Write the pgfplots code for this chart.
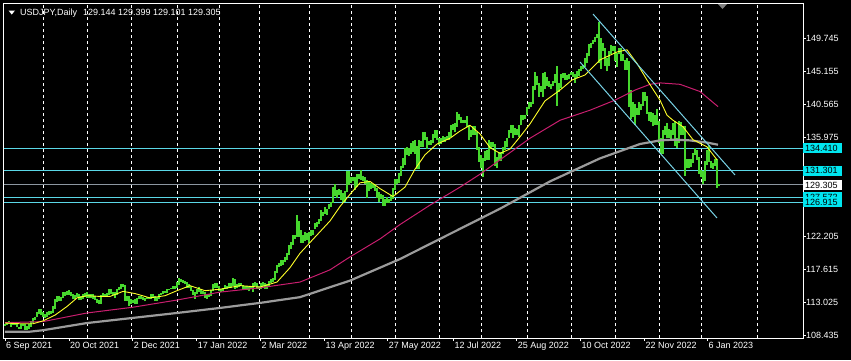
\documentclass[border=0pt]{standalone}
\usepackage{pgfplots}
\pgfplotsset{compat=1.18}
\usepackage{pgfplotstable}
\usepackage{fontspec}
\setmainfont{Liberation Sans}
\definecolor{barcol}{RGB}{70,215,45}
\definecolor{boxcyan}{RGB}{0,230,240}
\definecolor{linecyan}{RGB}{90,215,230}
\definecolor{chancyan}{RGB}{120,210,230}
\definecolor{mapink}{RGB}{200,30,110}
\definecolor{magray}{RGB}{155,155,155}
\definecolor{bidgray}{RGB}{140,150,160}
\definecolor{mayellow}{RGB}{255,255,40}
\newcommand{\lf}{\fontsize{9}{10}\selectfont}
\pgfplotstableread{
lo hi
109.7 110.0
109.8 110.3
110.0 110.4
109.6 110.2
109.8 110.1
109.8 110.2
109.5 110.2
109.3 109.6
109.3 109.9
109.7 110.0
109.1 110.0
109.2 109.7
109.3 109.9
109.6 110.4
110.1 110.8
110.5 111.0
110.9 111.7
111.3 112.0
111.2 112.1
110.9 111.6
110.8 111.3
110.9 111.6
111.2 111.8
111.3 111.8
111.5 112.4
112.1 113.4
113.0 113.8
113.1 113.8
113.1 113.7
113.6 114.4
113.9 114.4
114.0 114.5
114.0 114.7
113.8 114.4
113.4 114.2
113.5 114.0
113.7 114.3
113.3 114.2
113.3 113.9
113.5 114.1
113.7 114.3
113.6 114.4
113.6 114.2
113.6 114.2
113.5 114.2
113.3 113.8
112.9 113.5
112.7 113.3
112.8 114.0
113.8 114.3
113.9 114.2
113.8 114.3
114.0 114.9
114.1 114.9
114.0 114.4
113.6 114.4
114.0 114.9
114.7 115.1
114.8 115.5
115.1 115.5
113.2 115.4
113.2 113.9
112.5 113.9
112.7 113.5
112.9 113.3
112.8 113.5
112.8 113.6
113.4 113.9
113.4 113.9
113.3 113.7
113.1 113.6
113.4 113.7
113.4 113.7
113.5 114.1
113.6 114.2
113.1 113.8
113.1 113.7
113.5 114.1
114.0 114.3
114.2 114.5
114.3 114.5
114.3 114.8
114.7 114.9
114.8 115.0
114.9 115.2
114.9 115.2
115.0 115.8
115.4 116.4
115.8 116.2
115.7 116.1
115.5 116.0
115.0 115.8
115.0 115.5
114.6 115.3
114.0 114.7
113.5 114.4
114.2 114.8
114.4 115.1
114.2 114.9
114.1 114.5
113.6 114.4
113.5 114.0
113.7 114.1
113.8 114.7
114.6 115.5
115.0 115.7
115.0 115.6
114.6 115.3
114.4 114.8
114.6 115.0
114.8 115.4
114.9 115.3
115.0 115.6
115.0 115.6
115.3 116.3
114.9 116.2
115.0 115.5
115.1 115.7
115.2 115.7
114.8 115.4
114.8 115.3
114.7 115.2
114.5 115.2
114.8 115.2
114.4 115.7
115.3 115.8
114.9 115.7
114.8 115.2
114.9 115.6
115.3 115.8
114.8 115.6
114.8 115.5
115.2 115.9
115.7 116.2
115.8 116.4
116.1 117.4
117.1 118.2
117.9 118.5
118.1 118.9
118.2 118.8
118.6 119.3
118.9 119.8
119.6 120.9
120.4 121.4
121.0 122.4
121.8 122.4
122.1 125.1
122.1 124.3
121.3 123.1
121.3 122.4
121.5 122.8
121.7 122.6
121.3 122.7
122.2 123.0
122.4 123.0
123.2 124.0
123.5 124.1
123.9 124.6
124.3 125.8
125.0 125.6
125.3 126.3
125.1 125.9
125.9 126.6
126.3 127.0
126.8 129.0
127.7 129.4
127.5 128.6
127.9 128.8
127.2 128.6
127.0 128.2
127.0 128.5
128.3 131.2
129.3 131.2
129.6 130.4
129.8 130.4
128.6 130.4
129.0 130.8
130.1 130.8
130.0 131.35
129.9 130.5
129.5 130.4
127.5 130.0
128.4 129.8
128.7 129.6
128.9 129.5
128.5 129.4
127.5 128.9
127.0 128.3
127.3 128.1
126.4 127.9
126.4 127.4
126.8 127.6
126.8 127.4
127.1 127.9
127.4 128.9
128.6 130.1
129.4 130.1
129.6 130.9
130.5 131.9
131.7 133.0
132.1 134.5
133.5 134.6
133.3 134.4
133.6 135.2
133.9 135.4
133.6 135.6
131.5 134.7
131.5 135.5
134.6 135.4
134.6 136.7
135.6 136.7
134.3 136.0
134.8 135.4
134.9 135.6
135.1 136.4
135.8 137.0
135.6 137.0
134.8 135.9
135.0 135.8
135.3 136.1
135.3 136.0
135.6 136.1
135.6 136.6
136.0 137.7
136.9 137.8
136.6 137.9
137.4 139.4
138.4 139.2
137.9 138.8
137.9 138.4
137.9 138.4
137.4 138.9
135.6 137.6
136.0 136.9
136.3 137.5
136.3 137.5
134.2 136.6
132.5 134.6
131.6 133.5
130.4 133.0
132.7 134.0
132.8 134.1
132.8 135.5
134.3 135.3
134.6 135.3
132.0 135.0
131.7 133.2
132.6 133.9
132.6 133.9
133.6 134.6
134.2 135.4
134.6 135.9
135.8 137.0
136.5 137.6
135.8 137.6
136.2 137.2
136.2 137.1
136.0 137.6
137.6 139.0
138.3 139.0
138.5 139.1
139.0 140.2
139.9 140.8
140.2 140.8
140.5 143.1
142.5 145.0
143.2 144.5
141.6 143.5
142.3 143.0
141.6 144.9
142.6 145.0
143.1 144.3
142.9 143.8
142.7 143.3
143.0 143.7
143.5 144.7
140.3 145.9
142.2 143.5
142.8 144.8
144.2 144.9
143.9 144.9
143.9 144.6
144.0 144.8
144.6 145.0
144.3 145.0
143.5 144.8
144.2 145.2
144.5 145.4
145.2 145.9
145.4 146.0
145.7 146.9
146.3 147.7
147.2 148.9
148.4 149.1
148.9 149.4
149.2 149.9
149.7 150.3
146.2 151.9
145.5 149.7
147.9 149.0
145.9 148.3
145.1 146.9
145.8 147.9
147.5 148.8
147.9 148.6
146.6 148.6
145.7 147.6
147.5 148.4
146.5 148.4
146.6 147.5
145.3 146.7
145.3 146.9
140.2 146.6
138.5 142.5
138.8 140.8
137.7 140.6
139.0 140.0
139.0 140.8
139.7 140.6
140.3 142.2
141.0 142.2
139.2 141.7
138.2 139.5
138.0 139.4
137.5 139.3
137.7 139.0
137.6 139.9
135.1 138.2
133.6 135.9
133.6 136.9
136.2 137.5
135.8 137.9
135.9 137.1
135.6 136.9
136.2 137.9
134.7 138.2
134.5 135.9
135.2 138.2
136.3 138.0
136.3 137.5
130.6 137.5
131.6 132.9
131.6 132.9
131.8 132.9
132.3 133.7
133.5 134.5
132.8 134.1
130.8 133.2
130.4 131.4
129.5 131.2
129.9 132.7
132.1 134.1
132.5 134.8
131.6 132.6
131.5 132.4
132.0 132.9
128.9 132.9
129.1 129.4
}\bars
\pgfplotstableread{
x y
5 110.1
20 110.0
33 110.0
43 110.4
55 111.2
67 112.4
77 113.6
87 113.9
100 113.8
110 113.8
123 114.5
135 114.2
150 113.6
165 113.9
177 114.6
190 115.3
205 114.6
220 114.8
240 115.3
260 115.1
277 115.8
290 117.8
300 119.8
310 121.3
320 122.8
330 124.3
340 126.3
350 128.0
360 129.6
370 129.8
380 128.8
393 127.7
405 129.0
415 131.5
425 133.5
437 135.0
450 135.8
460 136.8
470 137.6
480 136.4
490 134.5
500 133.7
510 134.3
520 136.0
530 137.8
545 141.0
560 142.5
572 143.9
585 144.6
600 146.7
617 147.8
627 148.1
637 146.2
647 143.9
660 141.1
667 139.0
673 138.3
683 137.4
693 135.6
707 134.6
717 132.8
}\yellowma
\pgfplotstableread{
x y
5 110.15
43 110.3
87 111.5
133 112.3
177 113.3
220 114.4
260 115.0
300 115.8
330 117.5
350 119.3
380 121.8
400 123.8
430 126.5
460 129.0
480 130.8
500 132.8
530 135.8
560 138.3
590 139.7
615 141.1
635 142.5
650 143.3
660 143.5
680 143.3
700 142.3
718 140.2
}\pinkma
\pgfplotstableread{
x y
5 108.9
30 108.9
43 109.1
87 110.1
132 110.8
177 111.5
220 112.2
260 112.9
300 113.7
350 116.0
400 119.0
450 122.5
500 126.0
550 129.8
600 133.0
640 135.0
660 135.5
673 135.6
690 135.5
707 135.2
718 134.9
}\grayma
\begin{document}
\begin{tikzpicture}[x=1pt,y=1pt]
\path[fill=black, use as bounding box] (0,0) rectangle (851,360);
\begin{axis}[
  at={(4pt,22pt)}, anchor=south west,
  width=799pt, height=334pt, scale only axis,
  xmin=4, xmax=803, ymin=108.018, ymax=154.471,
  clip=false,
  axis line style={draw=white, line width=1pt},
  tick align=outside, major tick length=3pt,
  tick style={draw=white, line width=0.8pt},
  xtick pos=bottom, ytick pos=right, yticklabel pos=right,
  xtick={5,69,132.7,196.7,260.3,324.3,387.7,453.3,516.7,580.3,644.3,707.3},
  xticklabels={6 Sep 2021,20 Oct 2021,2 Dec 2021,17 Jan 2022,2 Mar 2022,13 Apr 2022,27 May 2022,12 Jul 2022,25 Aug 2022,10 Oct 2022,22 Nov 2022,6 Jan 2023},
  xticklabel style={anchor=north west, text=white, font=\lf, inner sep=0pt, xshift=1pt, yshift=-1pt},
  ytick={108.435,113.025,117.615,122.205,135.975,140.565,145.155,149.745},
  yticklabels={108.435,113.025,117.615,122.205,135.975,140.565,145.155,149.745},
  yticklabel style={anchor=west, text=white, font=\lf, inner sep=0pt, xshift=0pt},
  extra x ticks={43.3,87.3,131.7,177.3,219.3,259.3,309.3,351.3,395.3,439.3,481.3,527.3,571.3,615.3,659.3,701.3,757.3},
  extra x tick labels={},
  extra x tick style={grid=major, major tick length=0pt, tick style={draw=none},
     major grid style={draw=white, line width=0.8pt, dash pattern=on 3pt off 3pt}},
]
% horizontal levels
\addplot[linecyan, line width=1pt, forget plot] coordinates {(4,134.410) (803,134.410)};
\addplot[linecyan, line width=1pt, forget plot] coordinates {(4,131.301) (803,131.301)};
\addplot[linecyan, line width=1pt, forget plot] coordinates {(4,127.572) (803,127.572)};
\addplot[linecyan, line width=1pt, forget plot] coordinates {(4,126.915) (803,126.915)};
\addplot[bidgray, line width=1pt, forget plot] coordinates {(4,129.305) (803,129.305)};
% bars (low to high)
\addplot[color=barcol, only marks, mark=*, mark size=0pt, mark options={draw opacity=0, fill opacity=0}, forget plot,
  error bars/.cd, y dir=plus, y explicit,
  error mark=none,
  error bar style={color=barcol, solid, line width=1.1pt, opacity=1}]
  table[x expr=5+2*\coordindex, y=lo, y error expr=\thisrow{hi}-\thisrow{lo}] {\bars};
% moving averages
\addplot[magray, line width=2.2pt, forget plot] table[x=x,y=y] {\grayma};
\addplot[mapink, line width=1pt, forget plot] table[x=x,y=y] {\pinkma};
\addplot[mayellow, line width=0.9pt, forget plot] table[x=x,y=y] {\yellowma};
% channel
\addplot[chancyan, line width=1pt, forget plot] coordinates {(593,153.08) (735,130.69)};
\addplot[chancyan, line width=1pt, forget plot] coordinates {(580,146.40) (717,124.71)};
% price labels
\node[fill=boxcyan, text=black, anchor=west, inner xsep=4pt, inner ysep=0pt, minimum height=10pt, font=\lf] at (axis cs:803,134.410) {\hspace*{-2pt}134.410};
\node[fill=boxcyan, text=black, anchor=west, inner xsep=4pt, inner ysep=0pt, minimum height=10pt, font=\lf] at (axis cs:803,131.301) {\hspace*{-2pt}131.301};
\node[fill=white, text=black, anchor=west, inner xsep=4pt, inner ysep=0pt, minimum height=10pt, font=\lf] at (axis cs:803,129.305) {\hspace*{-2pt}129.305};
\node[fill=boxcyan, text=black, anchor=west, inner xsep=4pt, inner ysep=0pt, minimum height=10pt, font=\lf] at (axis cs:803,127.572) {\hspace*{-2pt}127.572};
\node[fill=boxcyan, text=black, anchor=west, inner xsep=4pt, inner ysep=0pt, minimum height=10pt, font=\lf] at (axis cs:803,126.915) {\hspace*{-2pt}126.915};
\end{axis}
% header
\fill[white] (8.5,349.5) -- (15,349.5) -- (11.75,345.5) -- cycle;
\node[anchor=west, text=white, font=\lf, inner sep=0pt] at (20,347) {USDJPY,Daily\hspace{6pt}129.144 129.399 129.101 129.305};
% chart shift marker
\fill[gray] (718,356) -- (727,356) -- (722.5,351) -- cycle;
\end{tikzpicture}
\end{document}
